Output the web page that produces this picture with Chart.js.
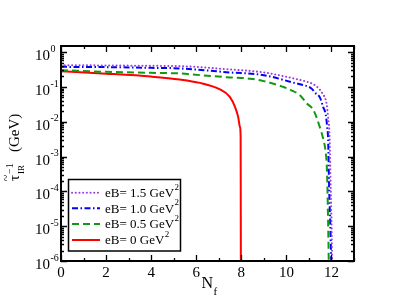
<!DOCTYPE html>
<html>
<head>
<meta charset="utf-8">
<script src="https://cdn.jsdelivr.net/npm/chart.js@4.4.0/dist/chart.umd.min.js"></script>
<style>
  html, body { margin: 0; padding: 0; background: #fff; }
  canvas { display: block; }
</style>
</head>
<body>
<canvas id="c" width="399" height="308"></canvas>
<script>
// Inverse IR time scale vs number of flavours, for a few magnetic field strengths.

const nf15 = [0, 2, 4, 5.27, 7.5, 9, 10.45, 10.8, 11.26, 11.6, 11.78, 11.85, 11.92, 11.97, 12.01, 12.03];
const tau15 = [0.42, 0.415, 0.404, 0.396, 0.318, 0.261, 0.168, 0.147, 0.113, 0.065, 0.0336, 0.0138, 0.0033, 1.1e-4, 7.7e-6, 1e-6];

const nf10 = [0, 2, 4, 5.27, 7.5, 9, 10.45, 10.6, 11.11, 11.3, 11.48, 11.63, 11.75, 11.81, 11.85, 11.9, 11.95, 11.99];
const tau10 = [0.378, 0.371, 0.354, 0.34, 0.261, 0.218, 0.126, 0.12, 0.0906, 0.066, 0.051, 0.0268, 0.0155, 0.0071, 0.0033, 1.1e-4, 1.07e-5, 1e-6];

const nf05 = [0, 2, 4, 5.27, 6.18, 7.5, 8.4, 9, 9.87, 10.2, 10.6, 10.9, 11.2, 11.48, 11.63, 11.73, 11.8, 11.85, 11.88];
const tau05 = [0.304, 0.272, 0.254, 0.244, 0.218, 0.1875, 0.173, 0.147, 0.1, 0.081, 0.058, 0.034, 0.0216, 0.0071, 0.0033, 0.00153, 4.1e-4, 1.5e-5, 1e-6];

const nf00 = [0, 2, 4, 5.27, 6.16, 7.05, 7.49, 7.72, 7.86, 7.94, 7.97, 7.975, 7.98];
const tau00 = [0.284, 0.241, 0.198, 0.164, 0.131, 0.0848, 0.052, 0.0268, 0.0138, 0.0071, 0.0037, 1e-4, 1e-6];

const seriesLabels = ["eB= 1.5 GeV", "eB= 1.0 GeV", "eB= 0.5 GeV", "eB= 0 GeV"];
const xTicks = [0, 2, 4, 6, 8, 10, 12];
const xMinorTicks = [1, 3, 5, 7, 9, 11, 13];
const yExponents = [0, -1, -2, -3, -4, -5, -6];

const SERIF = '"Liberation Serif", "Times New Roman", serif';

const pts = (xs, ys) => xs.map((x, i) => ({ x, y: ys[i] }));

const datasets = [
  { label: seriesLabels[0], data: pts(nf15, tau15), borderColor: "#9a3fe0", borderWidth: 2, borderDash: [0.1, 3.6], borderCapStyle: "round" },
  { label: seriesLabels[1], data: pts(nf10, tau10), borderColor: "#0000ff", borderWidth: 2, borderDash: [6, 2.5, 1.5, 2.5] },
  { label: seriesLabels[2], data: pts(nf05, tau05), borderColor: "#119a11", borderWidth: 2, borderDash: [7, 4] },
  { label: seriesLabels[3], data: pts(nf00, tau00), borderColor: "#ff0000", borderWidth: 2 }
];

// frame, inward ticks, superscripted labels and the boxed legend
const decor = {
  id: "decor",
  afterDraw(chart) {
    const ctx = chart.ctx;
    const { left, right, top, bottom } = chart.chartArea;
    const xs = chart.scales.x, ys = chart.scales.y;
    ctx.save();
    ctx.strokeStyle = "#000";
    ctx.fillStyle = "#000";

    ctx.lineWidth = 1.3;
    ctx.beginPath();
    for (const v of xTicks.concat(xMinorTicks)) {
      const px = Math.round(xs.getPixelForValue(v)) + 0.5;
      const len = xTicks.includes(v) ? 6 : 3;
      ctx.moveTo(px, bottom); ctx.lineTo(px, bottom - len);
      ctx.moveTo(px, top); ctx.lineTo(px, top + len);
    }
    for (const e of yExponents) {
      for (let m = 1; m <= 9; m++) {
        const v = m * Math.pow(10, e);
        if (v > ys.max || v < ys.min) continue;
        const py = Math.round(ys.getPixelForValue(v)) + 0.5;
        const len = m === 1 ? 6 : 3;
        ctx.moveTo(left, py); ctx.lineTo(left + len, py);
        ctx.moveTo(right, py); ctx.lineTo(right - len, py);
      }
    }
    ctx.stroke();

    ctx.lineWidth = 2;
    ctx.strokeRect(left, top, right - left, bottom - top);

    // x tick labels
    ctx.font = "15px " + SERIF;
    ctx.textAlign = "center";
    ctx.textBaseline = "alphabetic";
    for (const v of xTicks) ctx.fillText(String(v), xs.getPixelForValue(v), 277);

    // y tick labels: 10 with superscript exponent
    for (const e of yExponents) {
      const py = ys.getPixelForValue(Math.pow(10, e));
      ctx.font = "15px " + SERIF;
      ctx.textAlign = "right";
      ctx.textBaseline = "middle";
      ctx.fillText("10", 50, py + 4);
      ctx.font = "10px " + SERIF;
      ctx.textAlign = "left";
      ctx.fillText(e === 0 ? "0" : "-" + (-e), 50.5, py - 3);
    }

    // x title
    ctx.textBaseline = "alphabetic";
    ctx.textAlign = "left";
    ctx.font = "16px " + SERIF;
    ctx.fillText("N", 201.5, 288);
    ctx.font = "11px " + SERIF;
    ctx.fillText("f", 213.5, 295);

    // y title, rotated
    ctx.save();
    ctx.translate(19, 181);
    ctx.rotate(-Math.PI / 2);
    ctx.font = "15px " + SERIF;
    ctx.fillText("τ", 0, 0);
    const tw = ctx.measureText("τ").width;
    ctx.font = "12px " + SERIF;
    ctx.textAlign = "center";
    ctx.fillText("~", tw / 2, -9);
    ctx.textAlign = "left";
    ctx.font = "10px " + SERIF;
    ctx.fillText("−1", tw + 1, -6);
    ctx.font = "9px " + SERIF;
    ctx.fillText("IR", tw + 1, 5);
    ctx.font = "15px " + SERIF;
    ctx.fillText("(GeV)", 29, 0);
    ctx.restore();

    // legend
    const bx = 68.5, by = 179.5, bw = 112, bh = 71.5;
    ctx.fillStyle = "#fff";
    ctx.fillRect(bx, by, bw, bh);
    ctx.lineWidth = 1.5;
    ctx.strokeStyle = "#000";
    ctx.strokeRect(bx, by, bw, bh);
    const rows = [192.7, 208.3, 224, 240];
    chart.data.datasets.forEach((ds, i) => {
      const y = rows[i];
      ctx.save();
      ctx.strokeStyle = ds.borderColor;
      ctx.lineWidth = ds.borderWidth;
      ctx.lineCap = ds.borderCapStyle || "butt";
      ctx.setLineDash(ds.borderDash || []);
      ctx.beginPath();
      ctx.moveTo(72, y); ctx.lineTo(100, y);
      ctx.stroke();
      ctx.restore();
      ctx.fillStyle = "#000";
      ctx.font = "13px " + SERIF;
      ctx.textBaseline = "middle";
      ctx.textAlign = "left";
      ctx.fillText(ds.label, 105, y + 1);
      const w = ctx.measureText(ds.label).width;
      ctx.font = "9px " + SERIF;
      ctx.fillText("2", 105 + w + 0.5, y - 5.5);
    });

    ctx.restore();
  }
};

new Chart(document.getElementById("c"), {
  type: "line",
  data: { datasets },
  options: {
    responsive: false,
    animation: false,
    devicePixelRatio: 1,
    layout: { padding: { left: 61, right: 45, top: 46, bottom: 47 } },
    elements: { point: { radius: 0 }, line: { cubicInterpolationMode: "monotone" } },
    scales: {
      x: { type: "linear", min: 0, max: 13, display: false },
      y: { type: "logarithmic", min: 1e-6, max: 1.5, display: false }
    },
    plugins: { legend: { display: false }, tooltip: { enabled: false } }
  },
  plugins: [decor]
});
</script>
</body>
</html>
